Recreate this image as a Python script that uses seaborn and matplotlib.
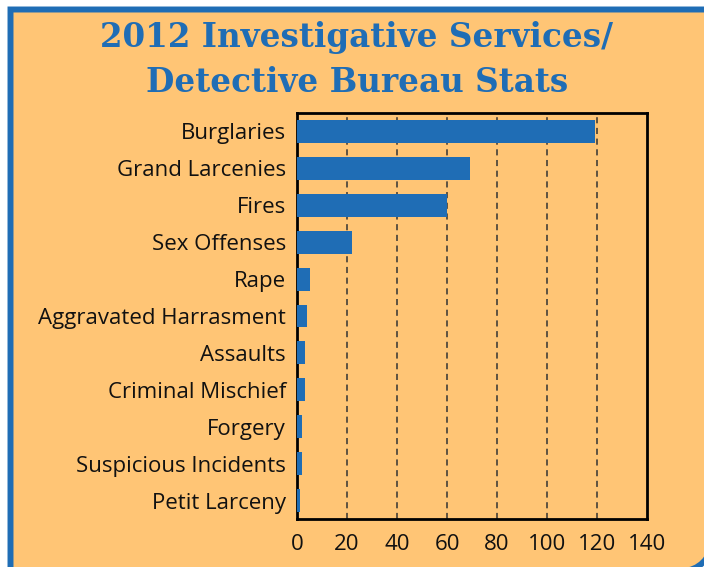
import matplotlib.pyplot as plt
import pandas as pd
import seaborn as sns
from matplotlib.patches import PathPatch
from matplotlib.path import Path

categories = [
    "Burglaries", "Grand Larcenies", "Fires", "Sex Offenses", "Rape",
    "Aggravated Harrasment", "Assaults", "Criminal Mischief", "Forgery",
    "Suspicious Incidents", "Petit Larceny",
]
counts = [119, 69, 60, 22, 5, 4, 3, 3, 2, 2, 1]
x_ticks = [0, 20, 40, 60, 80, 100, 120, 140]

BG = "#FFC575"
BLUE = "#1F6DB5"
W, H = 704, 567

df = pd.DataFrame({"category": categories, "count": counts})

sns.set_theme(style="white")
plt.rcParams["font.family"] = ["Open Sans", "DejaVu Sans"]

fig = plt.figure(figsize=(7.04, 5.67), dpi=100)
fig.patch.set_facecolor("white")


def px(x, y):
    return (x / W, 1 - y / H)


# orange panel, square top-left, rounded bottom-right running off the page
k = 0.5523 * 30
verts = [px(10.5, 9.5), px(712, 9.5), px(712, 541), px(712, 541 + k),
         px(682 + k, 571), px(682, 571), px(10.5, 571), px(10.5, 9.5)]
codes = [Path.MOVETO, Path.LINETO, Path.LINETO, Path.CURVE4, Path.CURVE4,
         Path.CURVE4, Path.LINETO, Path.CLOSEPOLY]
panel = PathPatch(Path(verts, codes), transform=fig.transFigure, facecolor=BG,
                  edgecolor=BLUE, linewidth=4.3, zorder=-5)
fig.patches.append(panel)

ax = fig.add_axes([297 / W, 1 - 519 / H, 350 / W, 406 / H])
ax.set_facecolor(BG)
sns.barplot(data=df, x="count", y="category", orient="h", color=BLUE,
            width=0.62, saturation=1, linewidth=0, ax=ax, zorder=3)

ax.set_xlim(0, 140)
ax.set_xticks(x_ticks)
ax.set_xlabel("")
ax.set_ylabel("")
for v in x_ticks[1:-1]:
    ax.axvline(v, color="#333333", linestyle=(0, (4, 3)), linewidth=1.1, zorder=1)

for s in ax.spines.values():
    s.set_color("black")
    s.set_linewidth(2)
ax.tick_params(axis="both", which="major", direction="out", length=5, width=1.5,
               color="#333333", labelsize=16, labelcolor="#111111", pad=3)
ax.tick_params(axis="x", pad=6)

title_font = ["DejaVu Serif Condensed", "DejaVu Serif"]
fig.text(357 / W, 1 - 38 / H, "2012 Investigative Services/", ha="center", va="center",
         fontsize=23.5, fontweight="bold", color=BLUE, family=title_font)
fig.text(357 / W, 1 - 83 / H, "Detective Bureau Stats", ha="center", va="center",
         fontsize=23.5, fontweight="bold", color=BLUE, family=title_font)

fig.savefig("out.png", dpi=100, facecolor=fig.get_facecolor())
